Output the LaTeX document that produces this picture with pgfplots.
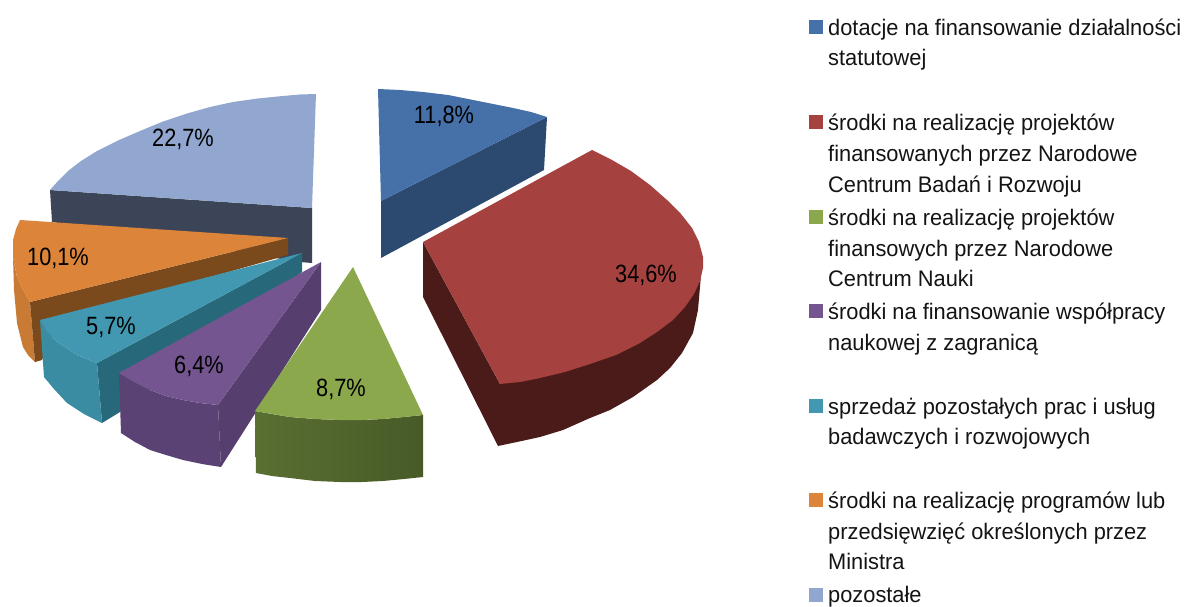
\documentclass[border=0pt]{standalone}
\usepackage{fontspec}
\setmainfont{Liberation Sans}
\usepackage{pgfplots}
\pgfplotsset{compat=1.18}
\definecolor{cBlue}{HTML}{4570A8}\definecolor{cBlueS}{HTML}{2C4A70}
\definecolor{cRed}{HTML}{A5423F}\definecolor{cRedS}{HTML}{4A1B18}
\definecolor{cGreen}{HTML}{8BA84C}\definecolor{cGreenS}{HTML}{5A6F32}\definecolor{cGreenT}{HTML}{475A28}
\definecolor{cPurple}{HTML}{74558F}\definecolor{cPurpleS}{HTML}{5B4274}
\definecolor{cTeal}{HTML}{4198B0}\definecolor{cTealS}{HTML}{3A8CA3}\definecolor{cTealD}{HTML}{27697A}
\definecolor{cOrange}{HTML}{DB843A}\definecolor{cOrangeS}{HTML}{C97A35}\definecolor{cOrangeD}{HTML}{7A491C}
\definecolor{cLight}{HTML}{91A7CF}\definecolor{cLightS}{HTML}{3C4558}
\tikzset{lg/.style={anchor=base west,inner sep=0pt,font=\fontsize{22.5}{27}\selectfont,xscale=0.97,text=black!92},
 pct/.style={inner sep=0pt,font=\fontsize{25}{29}\selectfont,xscale=0.87,text=black}}
\begin{document}
\begin{tikzpicture}
\begin{axis}[scale only axis,width=1186pt,height=607pt,xmin=0,xmax=1186,ymin=0,ymax=607,y dir=reverse,axis lines=none,clip=true]
% page ground: keeps the picture at the full size
\addplot[fill=white,draw=none] coordinates {(0,0)(1186,0)(1186,607)(0,607)} -- cycle;
% light blue
\addplot[fill=cLightS,draw=none] coordinates {(50,190)(312,208)(312,263)(300,262)(52,222)} -- cycle;
\addplot[fill=cLight,draw=none] coordinates {(316,94)(300,94.5)(283,96)(258,98.5)(233,102)(210,107)(187,113.5)(163,121.5)(140,131)(118,140.5)(97,151)(81,161)(68,171)(58,181)(50,190)(312,208)} -- cycle;
% orange
\addplot[fill=cOrangeS,draw=none] coordinates {(13,257)(17,277)(23,290)(30,302)(35,362)(28,355)(23,347)(17,323)(14,290)} -- cycle;
\addplot[fill=cOrangeD,draw=none] coordinates {(30,302)(288,238)(288,255)(60,320)(42,360)(35,362)} -- cycle;
\addplot[fill=cOrange,draw=none] coordinates {(20,220)(288,238)(30,302)(23,290)(17,277)(13,257)(13,240)(16,229)} -- cycle;
% teal
\addplot[fill=cTealD,draw=none] coordinates {(97,363)(302,253)(302,272)(120,412)(102,423)} -- cycle;
\addplot[fill=cTealS,draw=none] coordinates {(40,320)(44,377)(54,389)(67,403)(84,414)(102,423)(97,363)(77,355)(57,342)(47,332)} -- cycle;
\addplot[fill=cTeal,draw=none] coordinates {(40,320)(302,253)(97,363)(77,355)(57,342)(47,332)} -- cycle;
% purple
\addplot[fill=cPurpleS,draw=none] coordinates {(119,373)(121,433)(135,442)(150,450)(166,455)(183,460)(202,464)(221,467)(218,405)(200,403)(183,400)(166,396)(150,390)(134,382)} -- cycle;
\addplot[fill=cPurpleS!95!black,draw=none] coordinates {(218,405)(321,262)(321,310)(221,467)} -- cycle;
\addplot[fill=cPurple,draw=none] coordinates {(119,373)(321,262)(218,405)(200,403)(183,400)(166,396)(150,390)(134,382)} -- cycle;
% green
\addplot[left color=cGreenS,right color=cGreenT,draw=none] coordinates {(255,411)(256,473)(272,476)(290,478)(315,481)(340,482)(362,482)(383,481)(404,479)(423,477)(423,415)(404,417)(383,419)(362,420)(340,420)(315,419)(290,417)(272,414)} -- cycle;
\addplot[fill=cGreen,draw=none] coordinates {(353,267)(423,415)(404,417)(383,419)(362,420)(340,420)(315,419)(290,417)(272,414)(255,411)} -- cycle;
% blue
\addplot[fill=cBlueS,draw=none] coordinates {(381,201)(547,117)(544,170)(381,258)} -- cycle;
\addplot[fill=cBlue,draw=none] coordinates {(378,89)(400,90)(423,92)(448,95)(473,100)(493,104)(513,108)(531,112)(547,117)(381,201)} -- cycle;
% red
\addplot[fill=cRedS,draw=none] coordinates {(423,242)(423,297)(498,446)(517,442)(540,437)(563,430)(590,418)(610,410)(633,397)(657,380)(670,368)(682,353)(693,333)(698,310)(701,275)(703,257)(500,384)} -- cycle;
\addplot[fill=cRed,draw=none] coordinates {(592,150)(612,160)(631,171)(650,185)(667,200)(681,214)(692,228)(699,242)(703,257)(703,268)(700,281)(694,294)(685,307)(673,320)(657,332)(640,343)(616,355)(590,364)(565,372)(540,378)(520,382)(500,384)(423,242)} -- cycle;
% legend keys
\addplot[fill=cBlue,draw=none] coordinates {(809,20)(823,20)(823,34)(809,34)} -- cycle;
\addplot[fill=cRed,draw=none] coordinates {(809,115)(823,115)(823,129)(809,129)} -- cycle;
\addplot[fill=cGreen,draw=none] coordinates {(809,210)(823,210)(823,224)(809,224)} -- cycle;
\addplot[fill=cPurple,draw=none] coordinates {(809,304)(823,304)(823,318)(809,318)} -- cycle;
\addplot[fill=cTeal,draw=none] coordinates {(809,399)(823,399)(823,413)(809,413)} -- cycle;
\addplot[fill=cOrange,draw=none] coordinates {(809,493)(823,493)(823,507)(809,507)} -- cycle;
\addplot[fill=cLight,draw=none] coordinates {(809,588)(823,588)(823,602)(809,602)} -- cycle;
% percentages
\node[pct] at (axis cs:444,116) {11,8\%};
\node[pct] at (axis cs:646,275) {34,6\%};
\node[pct] at (axis cs:341,389) {8,7\%};
\node[pct] at (axis cs:199,366) {6,4\%};
\node[pct] at (axis cs:111,327) {5,7\%};
\node[pct] at (axis cs:58,258) {10,1\%};
\node[pct] at (axis cs:183,139) {22,7\%};
% legend text
\node[lg] at (axis cs:828,36) {dotacje na finansowanie działalności};
\node[lg] at (axis cs:828,66) {statutowej};
\node[lg] at (axis cs:828,131) {środki na realizację projektów};
\node[lg] at (axis cs:828,161) {finansowanych przez Narodowe};
\node[lg] at (axis cs:828,192) {Centrum Badań i Rozwoju};
\node[lg] at (axis cs:828,225) {środki na realizację projektów};
\node[lg] at (axis cs:828,256) {finansowych przez Narodowe};
\node[lg] at (axis cs:828,286) {Centrum Nauki};
\node[lg] at (axis cs:828,319) {środki na finansowanie współpracy};
\node[lg] at (axis cs:828,350) {naukowej z zagranicą};
\node[lg] at (axis cs:828,414) {sprzedaż pozostałych prac i usług};
\node[lg] at (axis cs:828,444) {badawczych i rozwojowych};
\node[lg] at (axis cs:828,508) {środki na realizację programów lub};
\node[lg] at (axis cs:828,539) {przedsięwzięć określonych przez};
\node[lg] at (axis cs:828,569) {Ministra};
\node[lg] at (axis cs:828,602) {pozostałe};
\end{axis}
\end{tikzpicture}
\end{document}
